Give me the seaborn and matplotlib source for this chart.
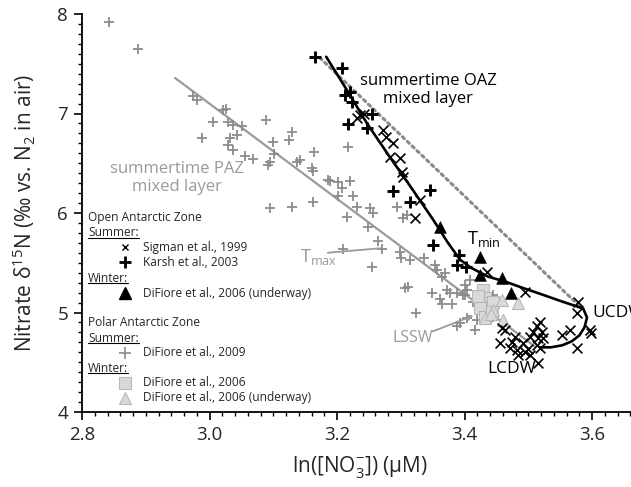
import matplotlib
matplotlib.use("Agg")
import matplotlib.pyplot as plt
import seaborn as sns
import pandas as pd
from matplotlib.lines import Line2D
from matplotlib.ticker import MultipleLocator

# ---------------- data ----------------
# Polar Antarctic Zone, summer (DiFiore et al., 2009) - grey plus
paz_sum_x = [2.842, 2.888, 2.974, 2.980, 3.021, 3.026, 3.005, 3.029, 3.037, 3.051,
             2.988, 3.032, 3.043, 3.029, 3.037, 3.056, 3.068, 3.089, 3.100, 3.101,
             3.092, 3.095, 3.125, 3.129, 3.137, 3.142, 3.161, 3.162, 3.164, 3.186,
             3.095, 3.129, 3.162, 3.217, 3.189, 3.202, 3.220, 3.208, 3.202, 3.225,
             3.216, 3.231, 3.252, 3.256, 3.249, 3.294, 3.304, 3.310, 3.264, 3.271,
             3.209, 3.255, 3.299, 3.300, 3.315, 3.336, 3.354, 3.357, 3.369, 3.365,
             3.307, 3.311, 3.349, 3.362, 3.365, 3.373, 3.377, 3.380, 3.388, 3.398,
             3.404, 3.324, 3.388, 3.393, 3.416, 3.401, 3.409, 3.413, 3.401, 3.445,
             3.451, 3.404, 3.420, 3.445, 3.440]
paz_sum_y = [7.92, 7.65, 7.18, 7.14, 7.04, 7.05, 6.91, 6.91, 6.88, 6.87,
             6.75, 6.75, 6.78, 6.68, 6.63, 6.57, 6.54, 6.93, 6.71, 6.59,
             6.48, 6.51, 6.73, 6.81, 6.51, 6.53, 6.45, 6.42, 6.61, 6.33,
             6.05, 6.06, 6.11, 6.66, 6.32, 6.31, 6.32, 6.25, 6.17, 6.17,
             5.96, 6.06, 6.05, 6.00, 5.86, 6.06, 5.95, 5.98, 5.72, 5.64,
             5.64, 5.46, 5.61, 5.55, 5.53, 5.55, 5.48, 5.43, 5.40, 5.36,
             5.25, 5.26, 5.20, 5.14, 5.09, 5.23, 5.20, 5.09, 5.20, 5.18,
             5.23, 4.99, 4.86, 4.89, 4.82, 5.28, 5.33, 5.11, 5.18, 5.18,
             5.10, 4.94, 4.92, 4.95, 5.13]

# Open Antarctic Zone, summer (Karsh et al., 2003) - black plus
karsh_x = [3.165, 3.208, 3.213, 3.220, 3.223, 3.217, 3.247, 3.255, 3.288, 3.315,
           3.346, 3.351, 3.391, 3.388, 3.402]
karsh_y = [7.57, 7.46, 7.19, 7.22, 7.12, 6.89, 6.85, 6.99, 6.22, 6.11,
           6.23, 5.68, 5.58, 5.48, 5.46]

# Open Antarctic Zone, summer (Sigman et al., 1999) - black x
sigman_x = [3.231, 3.236, 3.243, 3.272, 3.277, 3.288, 3.283, 3.299, 3.302, 3.304,
            3.330, 3.322, 3.435, 3.495, 3.578, 3.576, 3.597, 3.599, 3.566, 3.553,
            3.576, 3.518, 3.514, 3.521, 3.508, 3.503, 3.515, 3.523, 3.514, 3.518,
            3.515, 3.459, 3.464, 3.456, 3.475, 3.479, 3.471, 3.482, 3.492, 3.495,
            3.499, 3.503, 3.484]
sigman_y = [6.95, 6.98, 7.00, 6.83, 6.76, 6.70, 6.56, 6.55, 6.41, 6.36,
            6.13, 5.95, 5.41, 5.21, 5.11, 5.00, 4.82, 4.79, 4.82, 4.77,
            4.64, 4.90, 4.86, 4.80, 4.80, 4.75, 4.74, 4.74, 4.67, 4.64,
            4.49, 4.84, 4.82, 4.69, 4.70, 4.75, 4.64, 4.62, 4.69, 4.60,
            4.63, 4.57, 4.57]

# Open Antarctic Zone, winter (DiFiore et al., 2006, underway) - black triangles
oaz_win_x = [3.362, 3.424, 3.424, 3.459, 3.473]
oaz_win_y = [5.86, 5.56, 5.38, 5.35, 5.20]

# Polar Antarctic Zone, winter (DiFiore et al., 2006) - light grey squares
paz_win_x = [3.429, 3.432, 3.427, 3.435, 3.424, 3.432, 3.445, 3.443, 3.421]
paz_win_y = [5.23, 5.15, 5.10, 5.06, 5.05, 4.95, 5.11, 5.01, 5.17]

# Polar Antarctic Zone, winter (DiFiore et al., 2006, underway) - light grey triangles
paz_uw_x = [3.459, 3.484, 3.432, 3.460, 3.445, 3.441]
paz_uw_y = [5.13, 5.10, 4.94, 4.92, 5.03, 4.98]

# summertime OAZ mixed layer curve (black) with UCDW-LCDW loop
oaz_curve_x = [3.183, 3.215, 3.247, 3.283, 3.319, 3.351, 3.374, 3.393, 3.410, 3.425,
               3.437, 3.464, 3.490, 3.522, 3.553, 3.586, 3.592, 3.588, 3.580, 3.568,
               3.553, 3.535, 3.518]
oaz_curve_y = [7.57, 7.24, 6.90, 6.56, 6.23, 5.93, 5.70, 5.53, 5.45, 5.40,
               5.36, 5.31, 5.25, 5.18, 5.11, 5.04, 4.95, 4.85, 4.77, 4.71,
               4.67, 4.65, 4.65]

# summertime PAZ mixed layer line (grey)
paz_line_x = [2.946, 3.510]
paz_line_y = [7.357, 4.660]

# dotted grey line
dot_line_x = [3.173, 3.581]
dot_line_y = [7.56, 5.06]

x_ticks = [2.8, 3.0, 3.2, 3.4, 3.6]
y_ticks = [4, 5, 6, 7, 8]

# ---------------- style ----------------
sns.set_style("ticks")
FONT = "Open Sans"
plt.rcParams["font.family"] = [FONT, "DejaVu Sans"]
plt.rcParams["mathtext.fontset"] = "custom"
plt.rcParams["mathtext.rm"] = FONT
plt.rcParams["mathtext.it"] = FONT
plt.rcParams["mathtext.default"] = "regular"

GREY = "#8c8c8c"
LGREY_F = "#d9d9d9"
LGREY_E = "#b8b8b8"

W, H = 631, 487
fig = plt.figure(figsize=(W / 100, H / 100), dpi=100)
ax = fig.add_axes([82 / W, 75 / H, 549 / W, 398 / H])

# lines
sns.lineplot(x=paz_line_x, y=paz_line_y, ax=ax, color="#9a9a9a", lw=1.6,
             sort=False, estimator=None, zorder=2)
sns.lineplot(x=dot_line_x, y=dot_line_y, ax=ax, color="#8a8a8a", lw=2.2,
             linestyle=(0, (0.9, 1.3)), dash_capstyle="round",
             sort=False, estimator=None, zorder=2)

# points
sns.scatterplot(x=paz_sum_x, y=paz_sum_y, ax=ax, marker="+", color=GREY,
                s=55, linewidth=1.3, zorder=3)
sns.scatterplot(x=paz_win_x, y=paz_win_y, ax=ax, marker="s", color=LGREY_F,
                edgecolor=LGREY_E, s=70, linewidth=0.8, zorder=4)
sns.scatterplot(x=paz_uw_x, y=paz_uw_y, ax=ax, marker="^", color=LGREY_F,
                edgecolor=LGREY_E, s=75, linewidth=0.8, zorder=4)

sns.lineplot(x=oaz_curve_x, y=oaz_curve_y, ax=ax, color="black", lw=1.9,
             sort=False, estimator=None, zorder=5)

sns.scatterplot(x=sigman_x, y=sigman_y, ax=ax, marker="x", color="black",
                s=50, linewidth=1.2, zorder=6)
sns.scatterplot(x=karsh_x, y=karsh_y, ax=ax, marker="+", color="black",
                s=70, linewidth=2.1, zorder=6)
sns.scatterplot(x=oaz_win_x, y=oaz_win_y, ax=ax, marker="^", color="black",
                edgecolor="black", s=70, linewidth=0.5, zorder=7)

# axes
ax.set_xlim(2.8, 3.661)
ax.set_ylim(4, 8)
ax.set_xticks(x_ticks)
ax.set_xticklabels([f"{v:.1f}" for v in x_ticks])
ax.set_yticks(y_ticks)
ax.set_yticklabels([str(v) for v in y_ticks])
ax.xaxis.set_minor_locator(MultipleLocator(0.02))
ax.yaxis.set_minor_locator(MultipleLocator(0.1))
ax.tick_params(which="major", direction="out", length=6, width=1.2,
               labelsize=13.5, pad=4, color="black")
ax.tick_params(which="minor", direction="out", length=3, width=1.0, color="black")
for s in ("top", "right"):
    ax.spines[s].set_visible(False)
for s in ("left", "bottom"):
    ax.spines[s].set_linewidth(1.3)
    ax.spines[s].set_color("black")

ax.set_ylabel(r"Nitrate $\delta^{15}$N (‰ vs. N$_{2}$ in air)", fontsize=15)
ax.yaxis.set_label_coords(-0.08, 0.5)
ax.set_xlabel(r"ln([NO$_{3}^{-}$]) ($\mu$M)", fontsize=15)
ax.xaxis.set_label_coords(0.506, -0.105)

# annotations
ax.text(3.343, 7.236, "summertime OAZ\nmixed layer", ha="center", va="center",
        fontsize=12, color="black", linespacing=1.15)
ax.text(2.949, 6.352, "summertime PAZ\nmixed layer", ha="center", va="center",
        fontsize=12, color="#9a9a9a", linespacing=1.15)
ax.text(3.600, 4.995, "UCDW", ha="left", va="center", fontsize=12.5, color="black",
        clip_on=False)
ax.text(3.473, 4.43, "LCDW", ha="center", va="center", fontsize=12.5, color="black")
ax.text(3.319, 4.744, "LSSW", ha="center", va="center", fontsize=11.5, color="#9a9a9a")
ax.text(3.142, 5.555, r"T$_{\mathregular{max}}$", ha="left", va="center",
        fontsize=13, color="#9a9a9a")
ax.text(3.404, 5.74, r"T$_{\mathregular{min}}$", ha="left", va="center",
        fontsize=13, color="black")
ax.annotate("", xy=(3.272, 5.648), xytext=(3.181, 5.598),
            arrowprops=dict(arrowstyle="-", color="#9a9a9a", lw=1.3))
ax.annotate("", xy=(3.418, 4.98), xytext=(3.346, 4.80),
            arrowprops=dict(arrowstyle="-|>", color="#9a9a9a", lw=1.3,
                            mutation_scale=8))

# custom legend
def fx(px):
    return px / W

def fy(py):
    return 1 - py / H

LFS = 8.6
headers = [("Open Antarctic Zone", 217, False), ("Summer:", 233, True),
           ("Winter:", 278, True), ("Polar Antarctic Zone", 323, False),
           ("Summer:", 338, True), ("Winter:", 368, True)]
items = [("Sigman et al., 1999", 247, dict(marker="x", color="black", ms=5, mew=1.0)),
         ("Karsh et al., 2003", 262, dict(marker="+", color="black", ms=8, mew=2.0)),
         ("DiFiore et al., 2006 (underway)", 293,
          dict(marker="^", color="black", mfc="black", ms=8)),
         ("DiFiore et al., 2009", 353, dict(marker="+", color=GREY, ms=8, mew=1.2)),
         ("DiFiore et al., 2006", 383,
          dict(marker="s", color=LGREY_E, mfc=LGREY_F, ms=8, mew=0.8)),
         ("DiFiore et al., 2006 (underway)", 398,
          dict(marker="^", color=LGREY_E, mfc=LGREY_F, ms=9, mew=0.8))]

under = []
for txt, py, ul in headers:
    t = fig.text(fx(88), fy(py), txt, ha="left", va="center", fontsize=LFS)
    if ul:
        under.append(t)
for txt, py, mk in items:
    fig.add_artist(Line2D([fx(125)], [fy(py)], transform=fig.transFigure,
                          linestyle="none", **mk))
    fig.text(fx(143), fy(py), txt, ha="left", va="center", fontsize=LFS)

fig.canvas.draw()
r = fig.canvas.get_renderer()
for t in under:
    bb = t.get_window_extent(r)
    yb = bb.y0 + 1.5
    fig.add_artist(Line2D([bb.x0 / W, bb.x1 / W], [yb / H, yb / H],
                          transform=fig.transFigure, color="black", lw=0.8))

fig.savefig("out.png", dpi=100)
